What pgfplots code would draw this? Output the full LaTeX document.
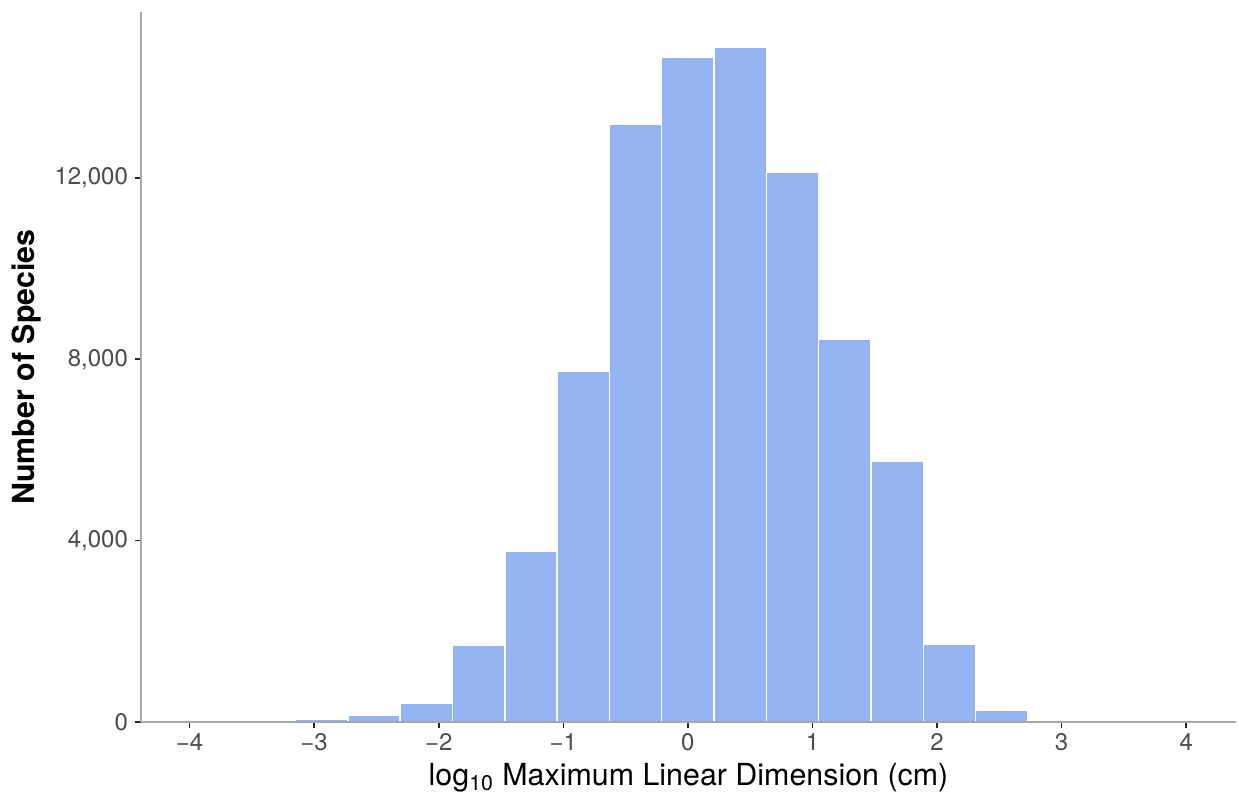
\documentclass[border=0pt]{standalone}
\usepackage{fontspec}
\setmainfont{TeX Gyre Heros}
\usepackage{pgfplots}
\pgfplotsset{compat=1.18}
\definecolor{barfill}{HTML}{94B4F2}
\definecolor{axgray}{HTML}{A8A8A8}
\definecolor{ticktext}{HTML}{4D4D4D}
\begin{document}
\begin{tikzpicture}
\begin{axis}[
  scale only axis, width=547.5pt, height=355pt,
  xmin=-4.39, xmax=4.40, ymin=0, ymax=15660,
  axis lines*=left, axis on top,
  axis line style={axgray, line width=1pt},
  xtick={-4,-3,-2,-1,0,1,2,3,4},
  xticklabels={−4,−3,−2,−1,0,1,2,3,4},
  ytick={0,4000,8000,12000},
  yticklabels={0,{4,000},{8,000},{12,000}},
  tick style={color=black!85, line width=0.8pt},
  tick align=outside, major tick length=3pt,
  ticklabel style={font=\fontsize{12}{14}\selectfont, text=ticktext},
  xticklabel style={yshift=1pt},
  xlabel={log\textsubscript{10} Maximum Linear Dimension (cm)},
  ylabel={\bfseries Number of Species},
  label style={font=\fontsize{15.2}{18}\selectfont},
  xlabel style={at={(axis description cs:0.5,-0.0789)}, anchor=center},
  ylabel style={at={(axis description cs:-0.105,0.5)}, anchor=center},
  clip=false,
]
\addplot[ybar, bar width=0.42, fill=barfill, draw=white, line width=0.75pt] coordinates {
  (-2.94,70) (-2.52,150) (-2.10,410) (-1.68,1690) (-1.26,3765) (-0.84,7735)
  (-0.42,13175) (0,14660) (0.42,14890) (0.84,12115) (1.26,8432) (1.68,5750)
  (2.10,1705) (2.52,265)
};
\coordinate (SW) at (rel axis cs:0,0);
\coordinate (NE) at (rel axis cs:1,1);
\end{axis}
\pgfresetboundingbox
\path ([xshift=-70.5pt,yshift=-38pt]SW) rectangle ([xshift=1.5pt,yshift=6pt]NE);
\end{tikzpicture}
\end{document}
